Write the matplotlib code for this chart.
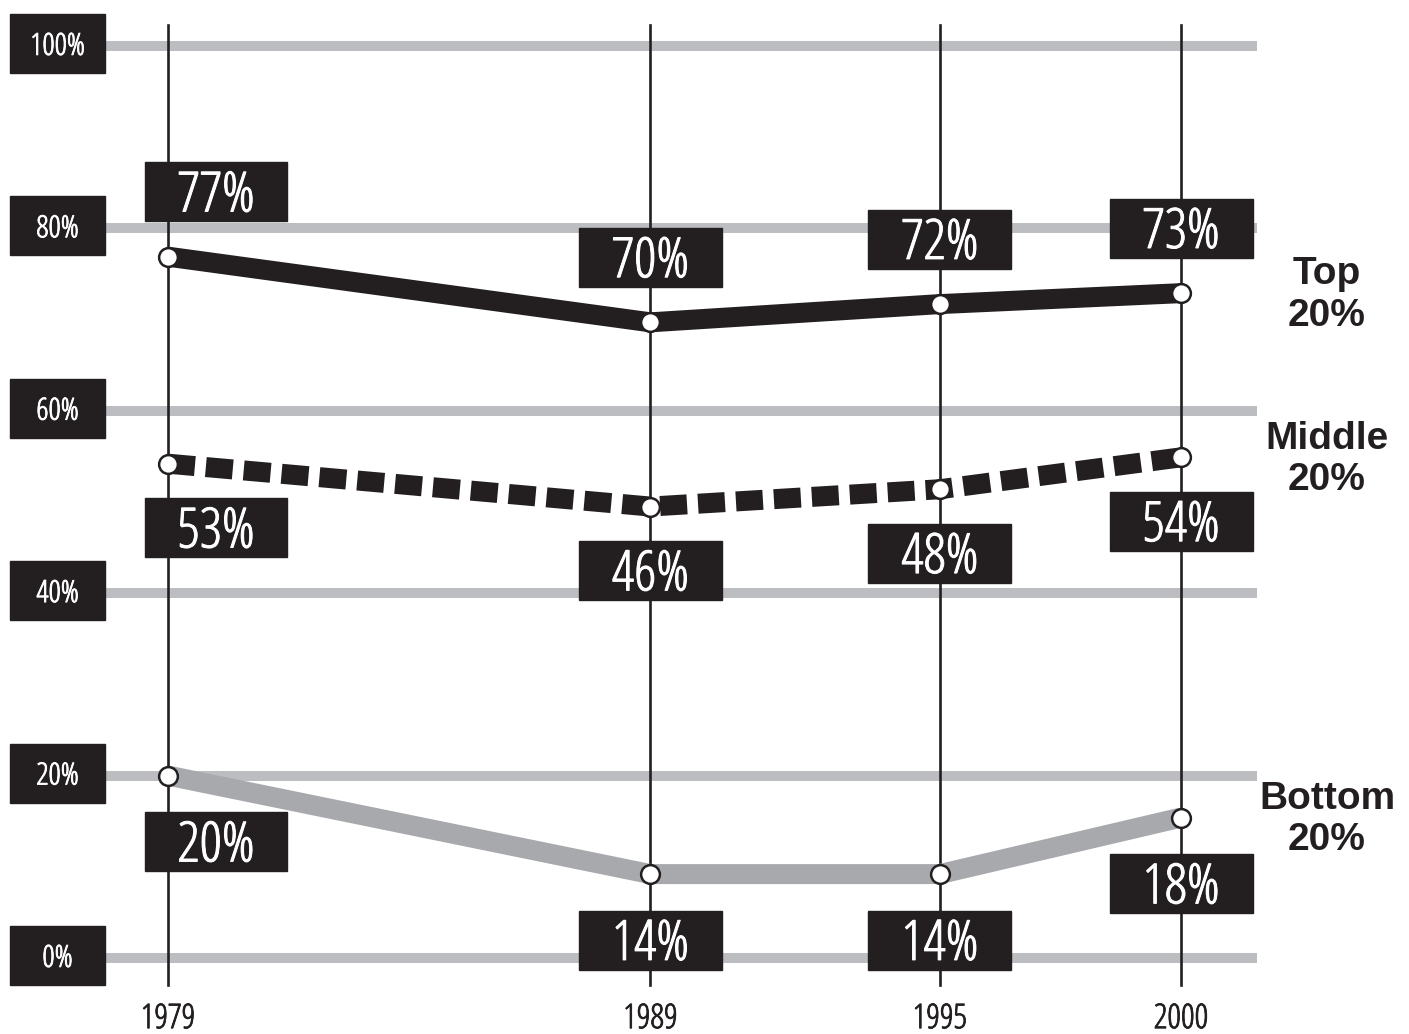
import matplotlib.pyplot as plt
import matplotlib.patheffects as pe
from matplotlib.patches import Rectangle

# data
years = [1979, 1989, 1995, 2000]
top_vals = [76.9, 69.7, 71.7, 72.9]
top_labels = ["77%", "70%", "72%", "73%"]
mid_vals = [54.2, 49.5, 51.4, 54.9]
mid_labels = ["53%", "46%", "48%", "54%"]
bot_vals = [20.0, 9.2, 9.2, 15.4]
bot_labels = ["20%", "14%", "14%", "18%"]
y_ticks = [0, 20, 40, 60, 80, 100]
y_tick_labels = ["0%", "20%", "40%", "60%", "80%", "100%"]
series_names = ["Top\n20%", "Middle\n20%", "Bottom\n20%"]

INK = "#231f20"
GRID = "#bcbdc0"
LIGHT = "#a7a9ac"
NARROW = dict(family=["Open Sans", "DejaVu Sans"], fontstretch="condensed")
CAP = 0.714  # cap height of Open Sans, in em

# pixel scale of the figure (100 dpi)
PXX = 48.24  # px per year
PXY = 9.12   # px per percent
W, H = 1409, 1034
xlim = (1979 - 168 / PXX, 1979 + (W - 168) / PXX)
ylim = (0 - (H - 958) / PXY, 100 + 46 / PXY)


def px_x(p):
    return xlim[0] + p / PXX


def px_y(p):
    return ylim[1] - p / PXY


fig = plt.figure(figsize=(W / 100, H / 100), dpi=100)
ax = fig.add_axes([0, 0, 1, 1])
ax.set_xlim(*xlim)
ax.set_ylim(*ylim)
ax.axis("off")


def put(x, y, s, size, color=INK, z=9, bolden=0.6):
    # put the middle of the cap height at y; the condensed face is light,
    # so a thin stroke of the same colour thickens it a bit
    half_cap = CAP * size * 100 / 72 / 2 / PXY
    return ax.text(x, y - half_cap, s, fontsize=size, color=color,
                   ha="center", va="baseline", zorder=z, **NARROW,
                   path_effects=[pe.withStroke(linewidth=bolden,
                                               foreground=color)])


# grey gridlines + black tick boxes on the left
for t, lab in zip(y_ticks, y_tick_labels):
    ax.plot([px_x(105), px_x(1257)], [t, t], color=GRID, lw=7.2,
            solid_capstyle="butt", zorder=1)
    ax.add_patch(Rectangle((px_x(10), t - 27 / PXY), 95 / PXX, 59 / PXY,
                           color=INK, zorder=5))
    put(px_x(57.5), t + 2 / PXY, lab, 22, color="white", z=6)

# thin verticals and year labels
for yr in years:
    ax.plot([yr, yr], [px_y(25), px_y(985)], color=INK, lw=1.9, zorder=2)
    put(yr, px_y(1016), str(yr), 24.5)

# the three series
ax.plot(years, top_vals, color=INK, lw=14.4, solid_capstyle="butt",
        solid_joinstyle="miter", zorder=3)
ax.plot(years, mid_vals, color=INK, lw=14.4, linestyle=(0, (1.35, 0.55)),
        dash_capstyle="butt", zorder=3)
ax.plot(years, bot_vals, color=LIGHT, lw=14.4, solid_capstyle="butt",
        solid_joinstyle="miter", zorder=3)
for vals in (top_vals, mid_vals, bot_vals):
    ax.plot(years, vals, "o", ms=13.5, mfc="white", mec=INK, mew=1.8,
            zorder=4, ls="none")


def value_box(x, y, text, off_y, off_x=0):
    cx = x + off_x / PXX
    cy = y + off_y / PXY
    ax.add_patch(Rectangle((cx - 71.5 / PXX, cy - 29.5 / PXY), 143 / PXX,
                           59 / PXY, color=INK, zorder=7))
    put(cx, cy, text, 40, color="white", z=8, bolden=0.7)


for i, yr in enumerate(years):
    shift = 48 if i == 0 else 0
    value_box(yr, top_vals[i], top_labels[i], 65, shift)
    value_box(yr, mid_vals[i], mid_labels[i], -64, shift)
    value_box(yr, bot_vals[i], bot_labels[i], -66, shift)

# series names on the right
for name, vals in zip(series_names, (top_vals, mid_vals, bot_vals)):
    ax.text(px_x(1327), vals[-1] - 2 / PXY, name, fontsize=28,
            fontweight="bold", color=INK, ha="center", va="center",
            linespacing=1.2, family=["Liberation Sans", "DejaVu Sans"])

fig.savefig("out.png", dpi=100)
